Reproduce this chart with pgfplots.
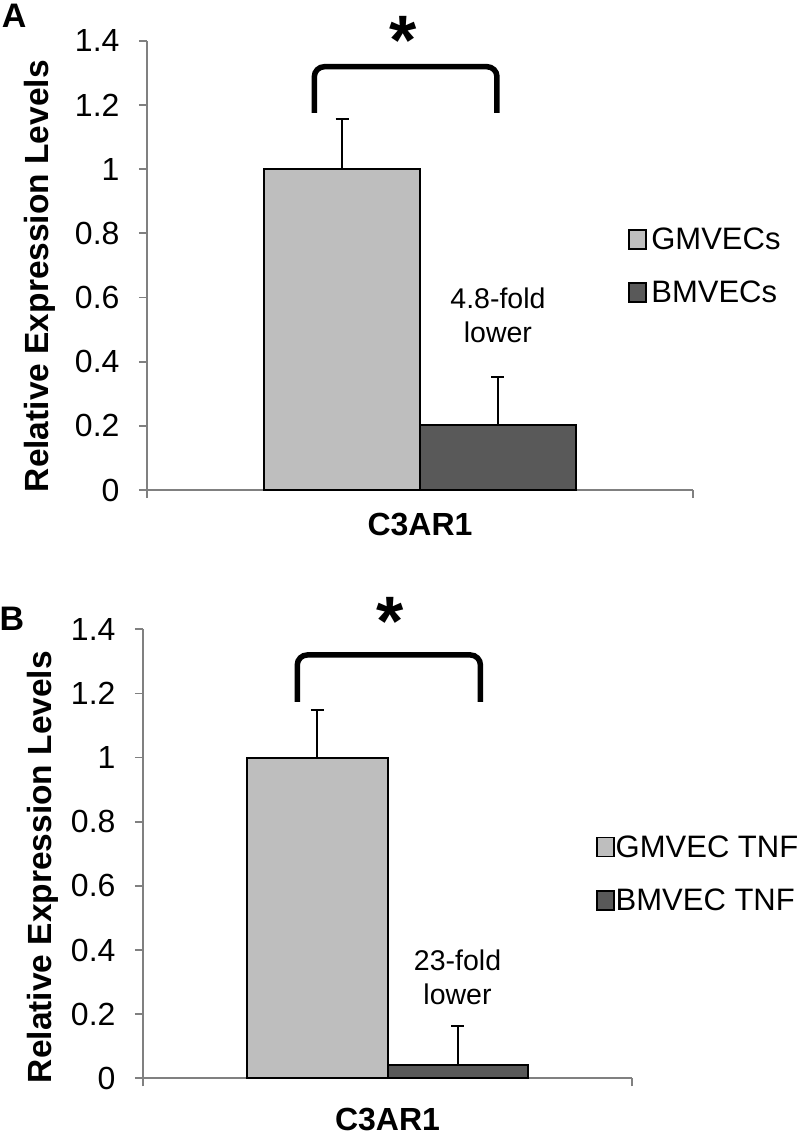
\documentclass[border=0pt]{standalone}
\usepackage{pgfplots}
\pgfplotsset{compat=1.18}
\usepackage{fontspec}
\setmainfont{Liberation Sans}
\definecolor{lightbar}{RGB}{190,190,190}
\definecolor{darkbar}{RGB}{89,89,89}
\definecolor{axisgray}{RGB}{128,128,128}
\pgfplotsset{
  panel/.style={
    scale only axis,
    axis x line*=bottom, axis y line*=left,
    xmin=-1, xmax=1, ymin=0, ymax=1.4,
    xtick={-1,1}, xticklabels={},
    ytick={0,0.2,0.4,0.6,0.8,1,1.2,1.4},
    yticklabels={0,0.2,0.4,0.6,0.8,1,1.2,1.4},
    tick align=outside, major tick length=8bp,
    axis line style={-, axisgray, line width=1.8bp},
    major tick style={axisgray, line width=1.8bp},
    tick label style={font=\fontsize{32bp}{38bp}\selectfont},
    yticklabel style={xshift=-16bp},
    clip=false,
    legend cell align=left,
    legend style={draw=none, fill=none, inner sep=0pt, anchor=west,
      row sep=30bp, nodes={inner sep=0pt},
      font=\fontsize{31bp}{37bp}\selectfont},
  },
  barerr/.style={error bars/.cd, y dir=plus, y explicit,
      error bar style={line width=2bp, black},
      error mark options={rotate=90, mark size=6.5bp, line width=2bp, black}},
}
\begin{document}
\begin{tikzpicture}
\path[use as bounding box] (0,0) rectangle (800bp,-1137bp);
% ---------------- Panel A ----------------
\begin{axis}[panel, width=546bp, height=449.3bp,
  at={(147bp,-490bp)}, anchor=south west,
  legend style={at={(axis cs:0.762,0.698)}}]
\addplot[ybar, bar width=0.571, bar shift=0pt, fill=lightbar, draw=black, line width=2bp,
  legend image code/.code={\draw[fill=lightbar, draw=black, line width=1.3bp] (0bp,-9.5bp) rectangle (17bp,9.5bp); \path (21.5bp,0bp);},
  barerr] coordinates {(-0.2855,1) +- (0,0.157)};
\addlegendentry{GMVECs}
\addplot[ybar, bar width=0.571, bar shift=0pt, fill=darkbar, draw=black, line width=2bp,
  legend image code/.code={\draw[fill=darkbar, draw=black, line width=1.3bp] (0bp,-9.5bp) rectangle (17bp,9.5bp); \path (21.5bp,0bp);},
  barerr] coordinates {(0.2855,0.204) +- (0,0.147)};
\addlegendentry{BMVECs}
\draw[line width=5.5bp, rounded corners=10bp] (axis cs:-0.387,1.175) -- (axis cs:-0.387,1.319) -- (axis cs:0.282,1.319) -- (axis cs:0.282,1.175);
\node[anchor=north, inner sep=0pt, font=\bfseries\fontsize{70bp}{70bp}\selectfont] at (axis cs:-0.062,1.475) {*};
\node[align=center, font=\fontsize{28.5bp}{34bp}\selectfont] at (axis cs:0.2855,0.543) {4.8-fold\\lower};
\node[rotate=90, font=\bfseries\fontsize{33.5bp}{38bp}\selectfont] at (rel axis cs:-0.196,0.476) {Relative Expression Levels};
\node[font=\bfseries\fontsize{32bp}{36bp}\selectfont] at (axis cs:0,-0.106) {C3AR1};
\node[font=\bfseries\fontsize{34bp}{38bp}\selectfont] at (axis cs:-1.487,1.479) {A};
\end{axis}
% ---------------- Panel B ----------------
\begin{axis}[panel, width=489bp, height=449bp,
  at={(143bp,-1078.3bp)}, anchor=south west,
  legend style={at={(axis cs:0.853,0.6375)}}]
\addplot[ybar, bar width=0.573, bar shift=0pt, fill=lightbar, draw=black, line width=2bp,
  legend image code/.code={\draw[fill=lightbar, draw=black, line width=1.3bp] (0bp,-9.5bp) rectangle (17bp,9.5bp); \path (17.8bp,0bp);},
  barerr] coordinates {(-0.2865,1) +- (0,0.148)};
\addlegendentry{GMVEC TNF}
\addplot[ybar, bar width=0.573, bar shift=0pt, fill=darkbar, draw=black, line width=2bp,
  legend image code/.code={\draw[fill=darkbar, draw=black, line width=1.3bp] (0bp,-9.5bp) rectangle (17bp,9.5bp); \path (17.8bp,0bp);},
  barerr] coordinates {(0.2865,0.041) +- (0,0.122)};
\addlegendentry{BMVEC TNF}
\draw[line width=5.5bp, rounded corners=10bp] (axis cs:-0.369,1.174) -- (axis cs:-0.369,1.32) -- (axis cs:0.38,1.32) -- (axis cs:0.38,1.174);
\node[anchor=north, inner sep=0pt, font=\bfseries\fontsize{70bp}{70bp}\selectfont] at (axis cs:0.01,1.50) {*};
\node[align=center, font=\fontsize{28.5bp}{34bp}\selectfont] at (axis cs:0.2865,0.3135) {23-fold\\lower};
\node[rotate=90, font=\bfseries\fontsize{33.5bp}{38bp}\selectfont] at (rel axis cs:-0.2055,0.4706) {Relative Expression Levels};
\node[font=\bfseries\fontsize{32bp}{36bp}\selectfont] at (axis cs:0,-0.130) {C3AR1};
\node[font=\bfseries\fontsize{34bp}{38bp}\selectfont] at (axis cs:-1.536,1.434) {B};
\end{axis}
\end{tikzpicture}
\end{document}
